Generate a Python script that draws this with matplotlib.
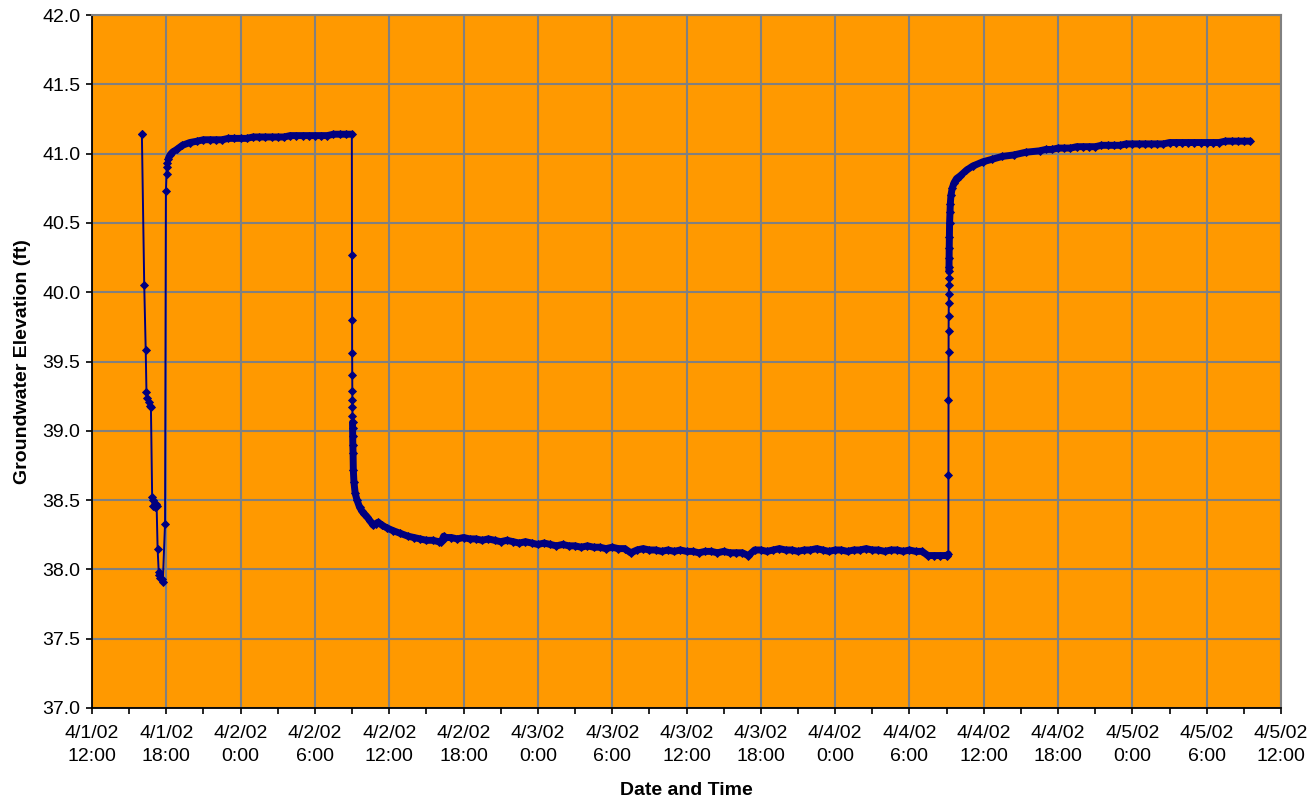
import numpy as np
import pandas as pd
import matplotlib
matplotlib.use("Agg")
import matplotlib.pyplot as plt
import matplotlib.dates as mdates
from matplotlib.ticker import FuncFormatter

plt.rcParams['font.family'] = ['Liberation Sans', 'DejaVu Sans']

START = pd.Timestamp("2002-04-01 12:00")

# --------------------
# Data (hours after 4/1/02 12:00, groundwater elevation in ft)
# --------------------
# first drawdown / recovery, irregular readings
test1_hours = [4.00, 4.03, 4.22, 4.34, 4.40, 4.47, 4.58, 4.68, 4.76, 4.86,
               4.90, 4.95, 5.05, 5.15, 5.22, 5.30, 5.39, 5.45, 5.52, 5.62,
               5.72, 5.90, 5.97, 6.02, 6.05, 6.08, 6.15, 6.30, 6.50, 6.84,
               7.30, 7.90, 8.50, 9.00, 9.50]
test1_levels = [41.14, 41.14, 40.05, 39.58, 39.28, 39.24, 39.21, 39.18, 39.17, 38.52,
                38.46, 38.50, 38.45, 38.47, 38.46, 38.15, 37.98, 37.96, 37.94, 37.93,
                37.91, 38.33, 40.73, 40.85, 40.90, 40.93, 40.96, 40.99, 41.01, 41.03,
                41.06, 41.08, 41.09, 41.10, 41.10]

# recovered level, half-hourly logger readings from hour 10.0
plateau1_start = 10.0
plateau1_levels = [41.10, 41.10, 41.11, 41.11, 41.11, 41.11, 41.12, 41.12, 41.12, 41.12,
                   41.12, 41.12, 41.13, 41.13, 41.13, 41.13, 41.13, 41.13, 41.13, 41.14,
                   41.14, 41.14]

# pumping start, fast readings
drop_hours = [20.98, 20.99, 21.0, 21.005, 21.01, 21.015, 21.02, 21.025, 21.03, 21.035,
              21.04, 21.05, 21.06, 21.08, 21.10, 21.15, 21.25, 21.40, 21.60, 21.80,
              22.0, 22.2, 22.45, 22.7, 22.9, 23.1, 23.4, 23.8, 24.3, 24.9,
              25.5, 26.0, 26.5, 27.0, 27.5, 28.0, 28.2, 28.4]
drop_levels = [41.14, 40.27, 39.80, 39.56, 39.40, 39.29, 39.22, 39.17, 39.11, 39.06,
               39.02, 38.96, 38.90, 38.84, 38.72, 38.63, 38.55, 38.50, 38.45, 38.42,
               38.40, 38.38, 38.35, 38.32, 38.33, 38.34, 38.32, 38.30, 38.28, 38.26,
               38.24, 38.23, 38.22, 38.21, 38.21, 38.20, 38.20, 38.24]

# pumping level, half-hourly readings from hour 28.5
pumping_start = 28.5
pumping_levels = [38.23, 38.23, 38.22, 38.23, 38.22, 38.22, 38.21, 38.22, 38.21, 38.20,
                  38.21, 38.20, 38.19, 38.20, 38.19, 38.18, 38.19, 38.18, 38.17, 38.18,
                  38.17, 38.17, 38.16, 38.17, 38.16, 38.16, 38.15, 38.16, 38.15, 38.15,
                  38.12, 38.14, 38.15, 38.14, 38.14, 38.13, 38.14, 38.13, 38.14, 38.13,
                  38.13, 38.12, 38.13, 38.13, 38.12, 38.13, 38.12, 38.12, 38.12, 38.10,
                  38.14, 38.14, 38.13, 38.14, 38.15, 38.14, 38.14, 38.13, 38.14, 38.14,
                  38.15, 38.14, 38.13, 38.14, 38.14, 38.13, 38.14, 38.14, 38.15, 38.14,
                  38.14, 38.13, 38.14, 38.14, 38.13, 38.14, 38.13, 38.13, 38.10, 38.10,
                  38.10]

# pump off, recovery
rise_hours = [69.0, 69.14, 69.145, 69.15, 69.155, 69.16, 69.165, 69.17, 69.175, 69.18,
              69.185, 69.19, 69.195, 69.20, 69.21, 69.22, 69.24, 69.27, 69.30, 69.35,
              69.45, 69.60, 69.80, 70.1, 70.6, 71.1, 71.9, 72.7, 73.5, 74.4,
              75.4, 76.5]
rise_levels = [38.10, 38.11, 38.68, 39.22, 39.57, 39.72, 39.83, 39.92, 39.99, 40.05,
               40.10, 40.15, 40.18, 40.25, 40.32, 40.40, 40.50, 40.58, 40.64, 40.70,
               40.75, 40.79, 40.82, 40.84, 40.88, 40.91, 40.94, 40.96, 40.98, 40.99,
               41.01, 41.02]

# recovered level, half-hourly readings from hour 77.0
plateau2_start = 77.0
plateau2_levels = [41.03, 41.03, 41.04, 41.04, 41.04, 41.05, 41.05, 41.05, 41.05, 41.06,
                   41.06, 41.06, 41.06, 41.07, 41.07, 41.07, 41.07, 41.07, 41.07, 41.07,
                   41.08, 41.08, 41.08, 41.08, 41.08, 41.08, 41.08, 41.08, 41.08, 41.09,
                   41.09, 41.09, 41.09, 41.09]


def logger_hours(start, levels):
    return list(start + 0.5 * np.arange(len(levels)))


hours = np.array(test1_hours + logger_hours(plateau1_start, plateau1_levels) + drop_hours
                 + logger_hours(pumping_start, pumping_levels) + rise_hours
                 + logger_hours(plateau2_start, plateau2_levels))
levels = np.array(test1_levels + plateau1_levels + drop_levels + pumping_levels
                  + rise_levels + plateau2_levels)

df = pd.DataFrame({"time": START + pd.to_timedelta(hours, unit="h"), "level": levels})

# stretches where the logger recorded densely -> drawn as a solid band
dense = (((hours >= 6.1) & (hours <= 20.98))
         | ((hours >= 21.035) & (hours <= 69.14))
         | (hours >= 69.19))
band = df["level"].where(dense)

# --------------------
# Plot
# --------------------
fig = plt.figure(figsize=(13.10, 7.99), dpi=100)
ax = fig.add_axes([0.0702, 0.1139, 0.9077, 0.8673])
ax.set_facecolor("#FF9900")

navy = "#000080"
ax.plot(df["time"], df["level"], color=navy, lw=1.4, marker="D",
        markersize=3.8, markeredgewidth=0.6, zorder=3)
ax.plot(df["time"], band, color=navy, lw=5.0, solid_capstyle="round",
        solid_joinstyle="round", zorder=3)

ax.set_ylim(37.0, 42.0)
ax.set_yticks(np.arange(37.0, 42.01, 0.5))
ax.yaxis.set_major_formatter(FuncFormatter(lambda v, p: f"{v:.1f}"))

ax.set_xlim(START, START + pd.Timedelta(hours=96))
major_times = pd.date_range(START, periods=17, freq="6h")
ax.set_xticks(major_times,
              [f"{d.month}/{d.day}/{d:%y}\n{d.hour}:{d:%M}" for d in major_times],
              linespacing=1.45)
ax.xaxis.set_minor_locator(mdates.HourLocator(byhour=[3, 9, 15, 21]))

ax.grid(True, which="major", color="#808080", lw=1.5, zorder=1)
ax.set_axisbelow(True)

ax.tick_params(axis="both", which="both", direction="out", length=4.5, width=1.2,
               colors="black", labelsize=14)
ax.tick_params(axis="x", which="major", pad=8)
ax.tick_params(axis="y", which="major", pad=4)
for s in ["left", "bottom"]:
    ax.spines[s].set_color("black")
    ax.spines[s].set_linewidth(1.3)
for s in ["top", "right"]:
    ax.spines[s].set_color("#808080")
    ax.spines[s].set_linewidth(1.5)

ax.set_xlabel("Date and Time", fontsize=14, fontweight="bold", labelpad=12)
ax.set_ylabel("Groundwater Elevation (ft)", fontsize=14, fontweight="bold", labelpad=8)

fig.savefig("out.png", dpi=100)
plt.close(fig)
